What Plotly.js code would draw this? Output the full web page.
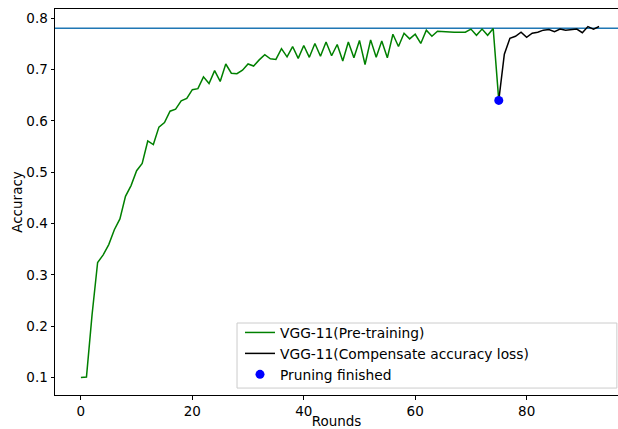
<!DOCTYPE html>
<html>
<head>
<meta charset="utf-8">
<script src="https://cdn.plot.ly/plotly-3.0.1.min.js"></script>
<style>html,body{margin:0;padding:0;background:#fff}#chart{width:618px;height:429px}</style>
</head>
<body>
<div id="chart"></div>
<script>
// Pre-training accuracy, rounds 0..75
const preRounds = Array.from({length: 76}, (_, i) => i);
const preAcc = [
  0.100, 0.101, 0.222, 0.324, 0.339, 0.359, 0.388, 0.409, 0.453, 0.474,
  0.503, 0.517, 0.561, 0.554, 0.588, 0.597, 0.619, 0.623, 0.639, 0.644,
  0.661, 0.663, 0.686, 0.673, 0.698, 0.677, 0.711, 0.693, 0.692, 0.699,
  0.711, 0.707, 0.719, 0.729, 0.721, 0.720, 0.741, 0.725, 0.745, 0.722,
  0.747, 0.724, 0.751, 0.726, 0.754, 0.727, 0.749, 0.717, 0.754, 0.723,
  0.757, 0.710, 0.758, 0.724, 0.756, 0.723, 0.769, 0.745, 0.771, 0.760,
  0.769, 0.751, 0.777, 0.765, 0.775, 0.774, 0.773, 0.773, 0.773, 0.773,
  0.779, 0.767, 0.779, 0.767, 0.780, 0.640
];
// Compensation phase, rounds 75..93
const compRounds = Array.from({length: 19}, (_, i) => 75 + i);
const compAcc = [
  0.640, 0.730, 0.761, 0.765, 0.773, 0.763, 0.771, 0.773, 0.777, 0.778,
  0.774, 0.779, 0.777, 0.778, 0.779, 0.772, 0.784, 0.779, 0.784
];
const pruneRound = [75];
const pruneAcc = [0.640];
const targetAcc = 0.7805;

const font = {family: 'DejaVu Sans, sans-serif', size: 13.5, color: '#000'};

const traces = [
  {x: preRounds, y: preAcc, mode: 'lines', name: 'VGG-11(Pre-training)',
   line: {color: '#008000', width: 1.5}},
  {x: compRounds, y: compAcc, mode: 'lines', name: 'VGG-11(Compensate accuracy loss)',
   line: {color: '#000000', width: 1.5}},
  {x: pruneRound, y: pruneAcc, mode: 'markers', name: 'Pruning finished',
   marker: {color: '#0000ff', size: 9}}
];

const layout = {
  width: 618, height: 429,
  margin: {l: 55, r: 0, t: 9, b: 34},
  paper_bgcolor: '#fff', plot_bgcolor: '#fff',
  font: font,
  showlegend: true,
  legend: {
    x: 0.3286, xanchor: 'left', y: 0.013, yanchor: 'bottom',
    bgcolor: 'rgba(0,0,0,0)', borderwidth: 0,
    font: {family: 'DejaVu Sans, sans-serif', size: 13.8, color: '#000'},
    tracegroupgap: 0
  },
  xaxis: {
    range: [-4.65, 96.4], showgrid: false, zeroline: false,
    showline: true, linecolor: '#000', linewidth: 1, mirror: true,
    ticks: 'outside', ticklen: 3.5, tickcolor: '#000', tickwidth: 1,
    tickvals: [0, 20, 40, 60, 80], ticktext: ['0', '20', '40', '60', '80'],
    tickfont: font,
    title: {text: 'Rounds', font: font, standoff: 1}
  },
  yaxis: {
    range: [0.0658, 0.8182], showgrid: false, zeroline: false,
    showline: true, linecolor: '#000', linewidth: 1,
    ticks: 'outside', ticklen: 3.5, tickcolor: '#000', tickwidth: 1,
    tickvals: [0.1, 0.2, 0.3, 0.4, 0.5, 0.6, 0.7, 0.8],
    ticktext: ['0.1', '0.2', '0.3', '0.4', '0.5', '0.6', '0.7', '0.8'],
    tickfont: font,
    title: {text: 'Accuracy', font: font, standoff: 0}
  },
  shapes: [
    {type: 'line', xref: 'paper', x0: 0, x1: 1, yref: 'y', y0: targetAcc, y1: targetAcc,
     line: {color: '#1f77b4', width: 1.5}, layer: 'below'},
    {type: 'rect', xref: 'paper', yref: 'paper', x0: 0.3233, x1: 0.998, y0: 0.018, y1: 0.1865,
     fillcolor: 'rgba(255,255,255,0.8)', line: {color: '#cccccc', width: 1}, layer: 'above'}
  ]
};

Plotly.newPlot('chart', traces, layout, {staticPlot: true, displayModeBar: false});
</script>
</body>
</html>
